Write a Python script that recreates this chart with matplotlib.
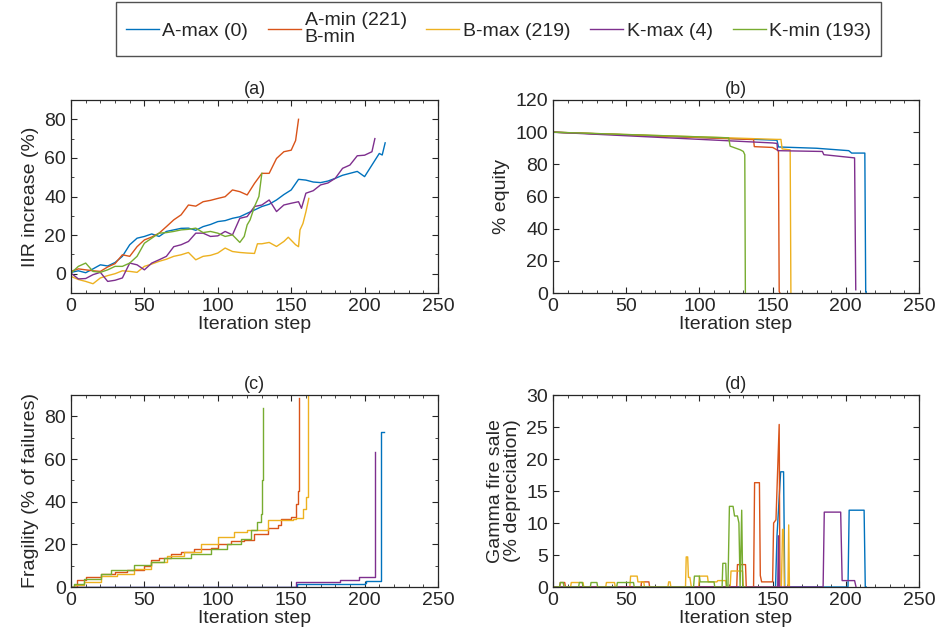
import matplotlib
matplotlib.use("Agg")
import matplotlib.pyplot as plt
from matplotlib.ticker import MultipleLocator

plt.rcParams['font.family'] = ['Liberation Sans', 'DejaVu Sans']

labels = ["A-max (0)", "A-min (221)\nB-min", "B-max (219)", "K-max (4)", "K-min (193)"]
colors = ["#0072BD", "#D95319", "#EDB120", "#7E2F8E", "#77AC30"]

# ---- panel (a): IIR increase (%) ----
a_blue_x = [0, 5, 10, 15, 20, 25, 30, 35, 40, 45, 50, 55, 60, 65, 70, 75, 80, 85, 90, 95, 100, 105, 110, 115, 120, 125, 130, 135, 140, 145, 150, 155, 160, 165, 170, 175, 180, 185, 190, 195, 200, 205, 210, 212, 214]
a_blue_y = [0.7, 1.5, 0.5, 2.5, 4.6, 4.0, 5.8, 9, 15, 18.4, 19.3, 20.6, 19.3, 21.9, 22.7, 23.5, 23.6, 22.5, 24.4, 25.5, 27, 27.5, 28.7, 29.5, 31.3, 33, 34.8, 36, 38.2, 41, 43.4, 48.9, 48.5, 47.5, 47.2, 48, 49.4, 51, 52, 53, 50.3, 56.3, 62.3, 61.5, 67.8]
a_orange_x = [0, 5, 10, 15, 20, 25, 30, 35, 40, 45, 50, 55, 60, 65, 70, 75, 80, 85, 90, 95, 100, 105, 110, 115, 120, 125, 130, 135, 140, 145, 150, 153, 155]
a_orange_y = [1.2, 2.5, 2, 1.5, 1.2, 3.5, 5.2, 9.8, 9, 14, 17.5, 19, 21, 24.4, 27.9, 30.5, 35.6, 35, 37.3, 38, 39, 39.9, 43.4, 42.5, 40.8, 46.8, 52, 52, 59.7, 63.2, 64, 69, 80]
a_yellow_x = [0, 5, 10, 15, 20, 25, 30, 35, 40, 45, 50, 55, 60, 65, 70, 75, 80, 85, 90, 95, 100, 105, 110, 115, 120, 125, 127, 130, 135, 140, 145, 148, 153, 155, 156, 158, 160, 162]
a_yellow_y = [-1.4, -3, -4, -5.2, -2.2, -1, 0, 1.5, 1.2, 0.7, 3.8, 5, 6.4, 7.5, 9, 9.8, 11, 7.2, 9, 9.5, 10.7, 13.3, 11.5, 11, 10.7, 10.5, 15.5, 15.5, 16.2, 14.1, 16.7, 18.9, 15, 14, 22.7, 26, 32, 39]
a_purple_x = [0, 5, 10, 15, 20, 25, 30, 35, 40, 45, 50, 55, 60, 65, 70, 75, 80, 85, 90, 95, 100, 105, 110, 115, 120, 125, 130, 135, 140, 145, 150, 155, 157, 160, 165, 170, 175, 180, 185, 190, 195, 200, 205, 207]
a_purple_y = [0.3, -2.7, -2.5, -0.5, 0.7, -4, -3.4, -2.2, 5.5, 4.6, 2, 5.5, 7.2, 9, 14, 15, 16.7, 21, 21, 19.3, 19.6, 21.9, 20.1, 28.7, 29.6, 34.8, 35.6, 38.2, 32.2, 35.6, 36.5, 37.3, 33.9, 41.7, 43, 46, 47, 49.4, 54.6, 56.3, 61.1, 61.4, 63.2, 70]
a_green_x = [0, 5, 10, 15, 20, 25, 30, 35, 40, 45, 50, 55, 60, 65, 70, 75, 80, 85, 90, 95, 100, 105, 110, 115, 118, 120, 122, 125, 128, 130]
a_green_y = [0.3, 3.8, 5.5, 1.2, 0.7, 2, 3.8, 3.8, 5.5, 9, 15.8, 18.4, 21, 21.3, 21.9, 22.7, 23, 23.6, 21.3, 21.9, 21, 19.3, 20.1, 16.2, 19.3, 25.3, 27.9, 34.8, 40, 52]

# ---- panel (b): % equity ----
b_blue_x = [0, 153, 154, 180, 202, 204, 213, 213.6, 214]
b_blue_y = [100, 95, 90.8, 90, 88.5, 87, 87, 0.5, 0.5]
b_orange_x = [0, 137, 137.5, 150, 153, 154, 154.5, 155]
b_orange_y = [100, 95.4, 91, 90.5, 89, 88.5, 1, 0]
b_yellow_x = [0, 153, 155.7, 156.5, 162, 162.5]
b_yellow_y = [100, 95.5, 95.5, 89.6, 89, 0]
b_purple_x = [0, 150, 153, 153.4, 184, 185, 206, 206.8]
b_purple_y = [100, 93.3, 93, 88.5, 88, 86, 84, 2]
b_green_x = [0, 120, 121, 128, 130, 131, 131.4]
b_green_y = [100, 96.5, 91.3, 89, 88, 86, 0]

# ---- panel (c): Fragility (% of failures) ----
c_blue_x = [0, 153, 154, 155, 200, 201, 211, 211.4, 213]
c_blue_y = [0, 0, 1.2, 1.2, 1.8, 3, 3.5, 72.5, 72.5]
c_orange_x = [0, 4.3, 10, 20.2, 30, 38.4, 49.8, 54.3, 60, 68, 75, 84, 95.2, 99.8, 109, 118, 124.8, 134, 141, 143, 148, 150, 153.4, 154.5, 155]
c_orange_y = [0, 3.1, 4.5, 6.25, 7, 7.8, 9.7, 12.5, 13.5, 15.6, 16.5, 18, 18.5, 20.3, 21.6, 22.2, 25, 27.7, 29, 32, 32, 32.8, 39, 45, 88.5]
c_yellow_x = [0, 2, 8.9, 20.2, 31.6, 43, 54.3, 65.7, 77, 88.4, 99.8, 111, 120, 134, 151, 153.4, 158, 160, 161.4]
c_yellow_y = [0, 0.8, 2.3, 5, 6.25, 8.6, 11.7, 14.4, 16.4, 20.3, 23.4, 25.8, 26.9, 31.25, 32, 32.5, 36.7, 42, 90]
c_purple_x = [0, 153, 153.5, 183, 183.5, 195.5, 196, 205.7, 207]
c_purple_y = [0, 0, 2.3, 2.3, 3.4, 3.4, 4.7, 4.7, 63.5]
c_green_x = [0, 2, 8.9, 20.2, 27, 43, 54.3, 63.4, 77, 81.6, 95.2, 106.6, 115.7, 122.5, 127, 129.3, 130, 130.8]
c_green_y = [0, 1.6, 3.9, 6.25, 7.8, 10.2, 11.7, 13.75, 13.75, 15.6, 18, 20.3, 22.7, 26.6, 30.5, 34.4, 50, 84]

# ---- panel (d): Gamma fire sale (% depreciation) ----
d_blue_x = [0, 152, 153, 155.5, 157.5, 158.3, 201.5, 202.3, 212.5, 213.3, 214]
d_blue_y = [0, 0, 8, 18, 18, 0, 0, 12, 12, 0, 0]
d_orange_x = [0, 4.5, 5, 8, 8.5, 60, 60.5, 65.5, 66, 125.5, 126, 131.5, 132, 137, 137.7, 141, 141.6, 142.5, 150, 150.7, 152.3, 154.5, 155]
d_orange_y = [0, 0, 0.7, 0.7, 0, 0, 0.8, 0.8, 0, 0, 3.5, 3.5, 0, 0, 16.3, 16.3, 1.8, 0.8, 0.8, 10, 10.5, 25.4, 0]
d_yellow_x = [0, 12, 12.5, 20.5, 21, 36, 36.5, 42, 42.5, 52.5, 53, 57.5, 58, 62, 62.5, 78.5, 79, 80, 80.5, 90.5, 91, 92, 92.5, 93.5, 94.5, 99.5, 100, 105.5, 106, 112, 112.5, 118, 118.5, 121, 121.6, 129.5, 130, 156, 156.8, 157.5, 158, 160.5, 161, 161.5]
d_yellow_y = [0, 0, 0.7, 0.7, 0, 0, 0.7, 0.7, 0, 0, 1.7, 1.7, 0.8, 0.8, 0, 0, 0.8, 0.8, 0, 0, 4.7, 4.7, 1.5, 1.5, 0, 0, 1.7, 1.7, 0.8, 0.8, 1, 1, 0, 0, 2.5, 2.5, 0, 0, 9, 9, 0, 0, 9.7, 0]
d_purple_x = [0, 153.5, 154, 154.5, 184.5, 185.3, 196.5, 197.5, 206, 207]
d_purple_y = [0, 0, 8, 0, 0, 11.7, 11.7, 1, 1, 0]
d_green_x = [0, 4.5, 5, 7, 7.5, 17.5, 18, 20, 20.5, 25.5, 26, 30, 30.5, 43.5, 44, 55, 55.5, 96, 96.6, 100, 100.5, 110, 110.5, 115.5, 116, 118, 118.5, 119.5, 120.5, 123, 124, 126, 127, 127.8, 128.9, 129.6, 131]
d_green_y = [0, 0, 0.7, 0.7, 0, 0, 0.7, 0.7, 0, 0, 0.7, 0.7, 0, 0, 0.7, 0.7, 0, 0, 1.7, 1.7, 0.8, 0.8, 0, 0, 3.7, 3.7, 0, 0, 12.6, 12.6, 11.1, 11.1, 10, 0, 12, 0, 0]

TXT = "#262626"
fig = plt.figure(figsize=(9.4, 6.42), dpi=100)
W, H = 940, 642

def make_ax(l, t, r, b):
    return fig.add_axes([l / W, 1 - b / H, (r - l) / W, (b - t) / H])

axa = make_ax(71, 100, 438, 293)
axb = make_ax(553, 100, 919, 293)
axc = make_ax(71, 395, 438, 587)
axd = make_ax(553, 395, 919, 587)

panels = [
    (axa, [(a_blue_x, a_blue_y), (a_orange_x, a_orange_y), (a_yellow_x, a_yellow_y), (a_purple_x, a_purple_y), (a_green_x, a_green_y)],
     "(a)", "IIR increase (%)", (-10, 90), 20, 10, 'default'),
    (axb, [(b_blue_x, b_blue_y), (b_orange_x, b_orange_y), (b_yellow_x, b_yellow_y), (b_purple_x, b_purple_y), (b_green_x, b_green_y)],
     "(b)", "% equity", (0, 120), 20, None, 'default'),
    (axc, [(c_blue_x, c_blue_y), (c_orange_x, c_orange_y), (c_yellow_x, c_yellow_y), (c_purple_x, c_purple_y), (c_green_x, c_green_y)],
     "(c)", "Fragility (% of failures)", (0, 90), 20, 10, 'steps-post'),
    (axd, [(d_blue_x, d_blue_y), (d_orange_x, d_orange_y), (d_yellow_x, d_yellow_y), (d_purple_x, d_purple_y), (d_green_x, d_green_y)],
     "(d)", "Gamma fire sale\n(% depreciation)", (0, 30), 5, None, 'default'),
]

handles = []
for ax, series, title, ylab, ylim, ymaj, ymin, ds in panels:
    hs = []
    for (xs, ys), c in zip(series, colors):
        h, = ax.plot(xs, ys, color=c, lw=1.0, drawstyle=ds)
        hs.append(h)
    if not handles:
        handles = hs
    ax.set_xlim(0, 250)
    ax.set_ylim(*ylim)
    ax.xaxis.set_major_locator(MultipleLocator(50))
    ax.xaxis.set_minor_locator(MultipleLocator(10))
    ax.yaxis.set_major_locator(MultipleLocator(ymaj))
    if ymin:
        ax.yaxis.set_minor_locator(MultipleLocator(ymin))
    ax.tick_params(which='both', direction='in', top=True, right=True, colors=TXT, labelsize=14)
    ax.tick_params(which='major', length=4, width=0.8)
    ax.tick_params(which='minor', length=2.5, width=0.6)
    for s in ax.spines.values():
        s.set_color(TXT)
        s.set_linewidth(0.9)
    ax.set_title(title, fontsize=13, color=TXT, pad=4)
    ax.set_xlabel("Iteration step", fontsize=14, color=TXT, labelpad=1)
    ax.set_ylabel(ylab, fontsize=14, color=TXT, labelpad=4, linespacing=1.0)

leg = fig.legend(handles, labels, loc='center', bbox_to_anchor=(498.5 / W, 1 - 29 / H), ncol=5,
                 fontsize=14, handlelength=1.7, handletextpad=0.2, columnspacing=1.0,
                 frameon=True, fancybox=False, edgecolor=TXT, borderpad=0.5)
leg.get_frame().set_linewidth(1.0)
for t in leg.get_texts():
    t.set_color(TXT)
    t.set_linespacing(1.0)

fig.savefig("out.png", dpi=100)
